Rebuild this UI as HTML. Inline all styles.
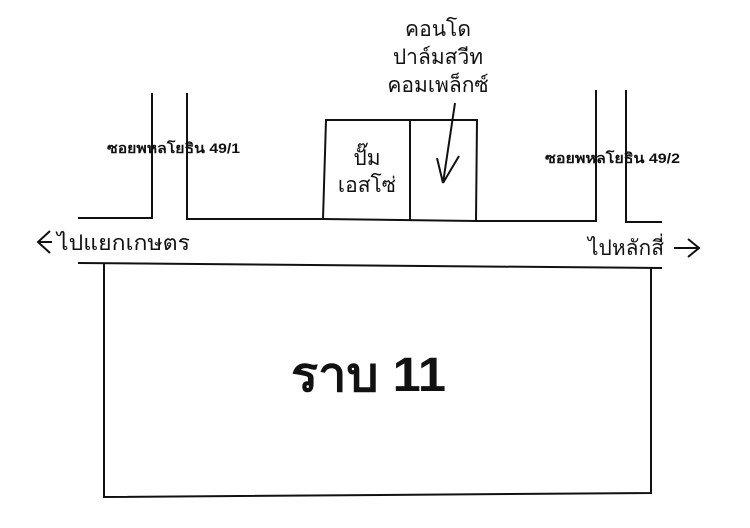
<!DOCTYPE html>
<html><head><meta charset="utf-8"><style>
body{margin:0;background:#fff;width:750px;height:523px;overflow:hidden}
svg text{font-family:"Liberation Sans","Noto Sans CJK SC",sans-serif;fill:#111}
</style></head><body>
<svg width="750" height="523" viewBox="0 0 750 523" xmlns="http://www.w3.org/2000/svg">
<g stroke="#111" stroke-width="2" fill="none">
<path d="M152 93 V218 H78"/>
<path d="M187 93 V219 H323 L326 120 H477 L476 221 H596 V90"/>
<path d="M410 120 V221"/>
<path d="M323 219 L476 221"/>
<path d="M626 90 V222 H662"/>
<path d="M78 263 L662 268"/>
<path d="M104 263 V497 L651 493 V268"/>
<path d="M455 103 L443 183 M443 183 L437 158 M443 183 L459 156"/>
<path d="M50 231 L38 242 L50 253 M38 242 H52"/>
<path d="M674 248 L698 248 M688 239 L699 248 L688 257"/>
</g>
<text x="438" y="36" font-size="21" text-anchor="middle">คอนโด</text>
<text x="438" y="64" font-size="21" text-anchor="middle">ปาล์มสวีท</text>
<text x="438" y="92" font-size="21" text-anchor="middle">คอมเพล็กซ์</text>
<text x="107" y="153" font-size="14" font-weight="bold" textLength="133" lengthAdjust="spacingAndGlyphs">ซอยพหลโยธิน 49/1</text>
<text x="545" y="163" font-size="14" font-weight="bold" textLength="135" lengthAdjust="spacingAndGlyphs">ซอยพหลโยธิน 49/2</text>
<text x="367" y="165" font-size="21" text-anchor="middle">ปั๊ม</text>
<text x="367" y="192" font-size="21" text-anchor="middle">เอสโซ่</text>
<text x="57" y="250" font-size="21" textLength="133" lengthAdjust="spacingAndGlyphs">ไปแยกเกษตร</text>
<text x="588" y="255" font-size="21" textLength="76" lengthAdjust="spacingAndGlyphs">ไปหลักสี่</text>
<text x="291" y="391" font-size="48" font-weight="bold" textLength="155" lengthAdjust="spacingAndGlyphs">ราบ 11</text>
</svg>
</body></html>
